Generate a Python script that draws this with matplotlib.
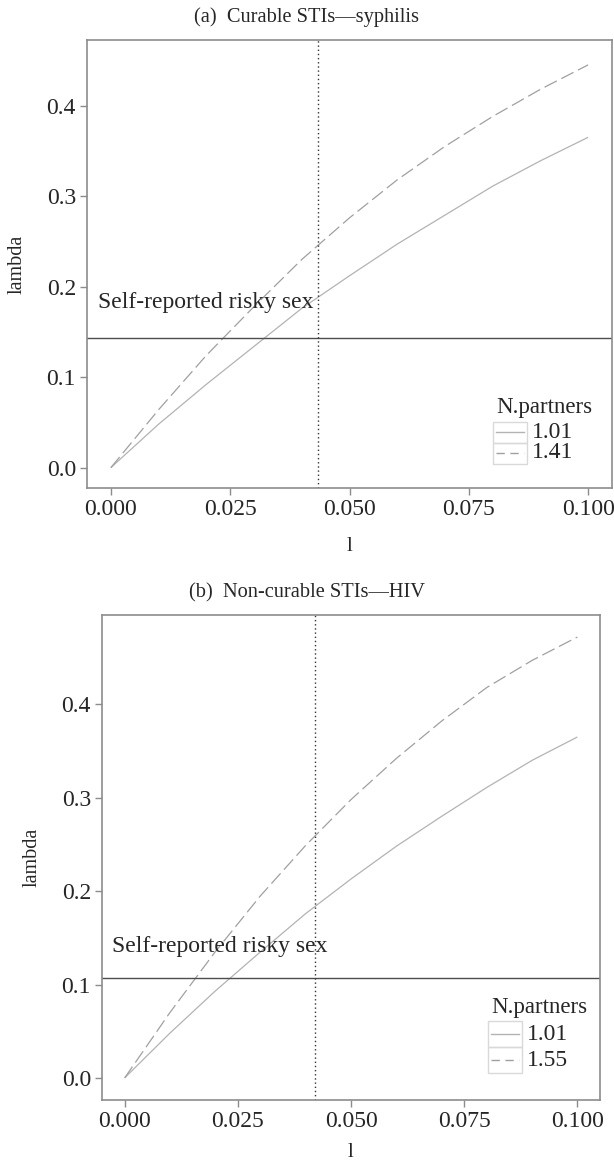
import matplotlib
matplotlib.use("Agg")
import matplotlib.pyplot as plt
from matplotlib.lines import Line2D
from matplotlib.patches import Rectangle

plt.rcParams['font.family'] = ['Liberation Serif', 'DejaVu Serif']

# data
l_vals = [0.0, 0.01, 0.02, 0.03, 0.04, 0.05, 0.06, 0.07, 0.08, 0.09, 0.10]

syph_101 = [0.0, 0.048, 0.092, 0.134, 0.176, 0.212, 0.247, 0.279, 0.311, 0.339, 0.365]
syph_141 = [0.0, 0.064, 0.124, 0.178, 0.230, 0.276, 0.318, 0.355, 0.388, 0.418, 0.445]
hiv_101 = [0.0, 0.048, 0.093, 0.135, 0.176, 0.213, 0.248, 0.280, 0.311, 0.340, 0.365]
hiv_155 = [0.0, 0.070, 0.135, 0.195, 0.249, 0.298, 0.342, 0.382, 0.418, 0.447, 0.472]

titles = ['(a)  Curable STIs\u2014syphilis', '(b)  Non-curable STIs\u2014HIV']
partner_labels = [['1.01', '1.41'], ['1.01', '1.55']]
risky_sex = [0.143, 0.107]
vline_l = [0.0433, 0.042]
x_ticks = [0.0, 0.025, 0.05, 0.075, 0.1]
y_ticks = [0.0, 0.1, 0.2, 0.3, 0.4]

W, H = 614, 1165
fig = plt.figure(figsize=(W / 100, H / 100), dpi=100)


def px_axes(left, top, right, bottom):
    return fig.add_axes([left / W, 1 - bottom / H, (right - left) / W, (bottom - top) / H])


spine_col = '#8c8c8c'
text_col = '#262626'

panels = [
    dict(box=(87, 40, 612, 488), series=(syph_101, syph_141), ylim=(-0.0225, 0.4725),
         title_y=17, label_dy=0.039, xpad=12,
         legend=dict(x=493, title_y=408, rows=(432, 453), h=21)),
    dict(box=(102, 615, 600, 1100), series=(hiv_101, hiv_155), ylim=(-0.0236, 0.4956),
         title_y=593, label_dy=0.034, xpad=8,
         legend=dict(x=488, title_y=1008, rows=(1034, 1060), h=26)),
]

for i, p in enumerate(panels):
    ax = px_axes(*p['box'])
    solid, dashed = p['series']
    ax.plot(l_vals, solid, color='#b3b3b3', lw=0.9, solid_capstyle='butt')
    ax.plot(l_vals, dashed, color='#a0a0a0', lw=0.9, dashes=(11, 4))
    ax.axhline(risky_sex[i], color='#4d4d4d', lw=1.0)
    ax.axvline(vline_l[i], color='#333333', lw=1.0, ls=(0, (1, 2)))
    ax.text(-0.0028, risky_sex[i] + p['label_dy'], 'Self-reported risky sex', fontsize=17,
            color=text_col, va='center', ha='left')

    ax.set_xlim(-0.005, 0.105)
    ax.set_ylim(*p['ylim'])
    ax.set_xticks(x_ticks)
    ax.set_xticklabels([f'{v:.3f}' for v in x_ticks])
    ax.set_yticks(y_ticks)
    ax.set_yticklabels([f'{v:.1f}' for v in y_ticks])
    ax.tick_params(colors=spine_col, labelcolor=text_col, labelsize=17, length=5, width=1,
                   pad=3)
    for s in ax.spines.values():
        s.set_color(spine_col)
        s.set_linewidth(1.2)
    ax.set_xlabel('l', fontsize=15, color=text_col, labelpad=p['xpad'])
    ax.set_ylabel('lambda', fontsize=14.5, color=text_col, labelpad=14)

    fig.text(0.5, 1 - p['title_y'] / H, titles[i], ha='center',
             va='center', fontsize=14.7, color=text_col)

    # ggplot style legend with boxed keys
    lg = p['legend']
    kx, kw = lg['x'], 34
    fig.text((kx + 3) / W, 1 - lg['title_y'] / H, 'N.partners', fontsize=16.5,
             color=text_col, va='center', ha='left')
    styles = [dict(color='#b3b3b3'), dict(color='#a0a0a0', dashes=(6, 4))]
    for j, cy in enumerate(lg['rows']):
        h = lg['h']
        fig.patches.append(Rectangle((kx / W, 1 - (cy + h / 2) / H), kw / W, h / H,
                                     transform=fig.transFigure, fill=False,
                                     edgecolor='#d9d9d9', lw=1.0))
        fig.lines.append(Line2D([(kx + 3) / W, (kx + kw - 3) / W], [1 - cy / H, 1 - cy / H],
                                transform=fig.transFigure, lw=1.0, **styles[j]))
        fig.text((kx + kw + 5) / W, 1 - cy / H, partner_labels[i][j], fontsize=17,
                 color=text_col, va='center', ha='left')

fig.savefig('out.png', dpi=100, facecolor='white')
